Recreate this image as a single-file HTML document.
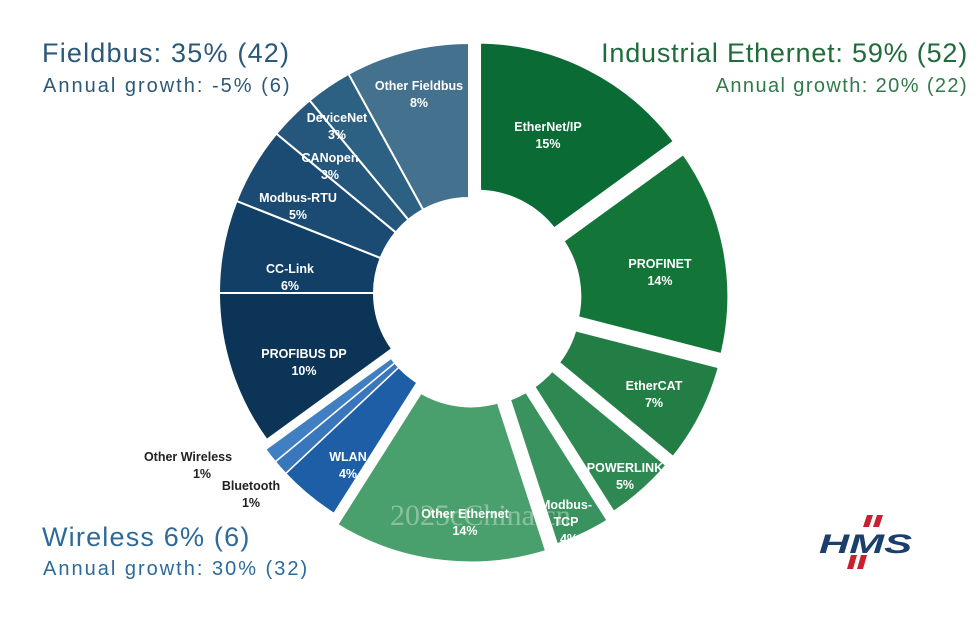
<!DOCTYPE html>
<html><head><meta charset="utf-8"><style>
html,body{margin:0;padding:0;background:#fff;}
body{width:980px;height:630px;overflow:hidden;position:relative;font-family:"Liberation Sans",sans-serif;}
.t{position:absolute;white-space:nowrap;}
</style></head><body>
<svg id="s" width="980" height="630" style="position:absolute;left:0;top:0"></svg>
<div class="t" style="left:42px;top:38px;font-size:27px;letter-spacing:1.2px;color:#2b5878;">Fieldbus: 35% (42)</div>
<div class="t" style="left:43px;top:75px;font-size:20px;letter-spacing:2px;color:#2b5878;">Annual growth: -5% (6)</div>
<div class="t" style="right:12px;top:38px;font-size:27px;letter-spacing:0.8px;color:#1f6b3a;">Industrial Ethernet: 59% (52)</div>
<div class="t" style="right:12px;top:75px;font-size:20px;letter-spacing:1.4px;color:#2f7a48;">Annual growth: 20% (22)</div>
<div class="t" style="left:42px;top:522px;font-size:27px;letter-spacing:1.2px;color:#2c6a9a;">Wireless 6% (6)</div>
<div class="t" style="left:43px;top:558px;font-size:20px;letter-spacing:2px;color:#2c6a9a;">Annual growth: 30% (32)</div>
<script>
var s=document.getElementById('s');
var CX=472,CY=298,R=250,r=95;
var data=[
['EtherNet/IP',15,'#0b6b35','e'],['PROFINET',14,'#137538','e'],['EtherCAT',7,'#237e46','e'],
['POWERLINK',5,'#2e8852','e'],['Modbus-TCP',4,'#3a935f','e'],['Other Ethernet',14,'#4aa06c','e'],
['WLAN',4,'#1d5ea6','w'],['Bluetooth',1,'#3a76bb','w'],['Other Wireless',1,'#3f7fc2','w'],
['PROFIBUS DP',10,'#0c3457','f'],['CC-Link',6,'#123f66','f'],['Modbus-RTU',5,'#1b4a72','f'],
['CANopen',3,'#25577d','f'],['DeviceNet',3,'#2c6183','f'],['Other Fieldbus',8,'#44718e','f']];
function pt(cx,cy,rad,a){return [cx+rad*Math.sin(a),cy-rad*Math.cos(a)];}
var acc=0,html='';
data.forEach(function(d){
 var a0=acc/100*2*Math.PI;acc+=d[1];var a1=acc/100*2*Math.PI;var m=(a0+a1)/2;
 var ox=0,oy=0,sw=2;
 if(d[3]=='e'){ox=10*Math.sin(m);oy=-10*Math.cos(m);sw=9;}
 if(d[3]=='w'){var g=223/180*Math.PI;ox=6*Math.sin(g);oy=-6*Math.cos(g);sw=1.5;}
 if(d[3]=='f'){ox=-3;oy=-5;sw=2;}
 var cx=CX+ox,cy=CY+oy,Ro=R+(d[0]=='Other Ethernet'?8:0)+(d[0]=='Modbus-TCP'?4:0);
 var p1=pt(cx,cy,Ro,a0),p2=pt(cx,cy,Ro,a1),p3=pt(cx,cy,r,a1),p4=pt(cx,cy,r,a0);
 var lg=(a1-a0)>Math.PI?1:0;
 html+='<path d="M'+p1+' A'+Ro+','+Ro+' 0 '+lg+' 1 '+p2+' L'+p3+' A'+r+','+r+' 0 '+lg+' 0 '+p4+'Z" fill="'+d[2]+'" stroke="#fff" stroke-width="'+sw+'"/>';
});
var L=[['EtherNet/IP','15%',548,131],['PROFINET','14%',660,268],['EtherCAT','7%',654,390],['POWERLINK','5%',625,472],
['Modbus-','TCP',566,509],['Other Ethernet','14%',465,518],['WLAN','4%',348,461],['PROFIBUS DP','10%',304,358],
['CC-Link','6%',290,273],['Modbus-RTU','5%',298,202],['CANopen','3%',330,162],['DeviceNet','3%',337,122],['Other Fieldbus','8%',419,90]];
L.forEach(function(l){html+='<text x="'+l[2]+'" y="'+l[3]+'" text-anchor="middle" font-family="Liberation Sans" font-weight="bold" font-size="12.5" fill="#fff">'+l[0]+'</text><text x="'+l[2]+'" y="'+(l[3]+17)+'" text-anchor="middle" font-family="Liberation Sans" font-weight="bold" font-size="12.5" fill="#fff">'+l[1]+'</text>';});
html+='<text x="569" y="543" text-anchor="middle" font-family="Liberation Sans" font-weight="bold" font-size="12.5" fill="#fff">4%</text>';
html+='<text x="188" y="461" text-anchor="middle" font-family="Liberation Sans" font-weight="bold" font-size="12.5" fill="#222">Other Wireless</text><text x="202" y="478" text-anchor="middle" font-family="Liberation Sans" font-weight="bold" font-size="12.5" fill="#222">1%</text>';
html+='<text x="251" y="490" text-anchor="middle" font-family="Liberation Sans" font-weight="bold" font-size="12.5" fill="#222">Bluetooth</text><text x="251" y="507" text-anchor="middle" font-family="Liberation Sans" font-weight="bold" font-size="12.5" fill="#222">1%</text>';
html+='<text x="390" y="525" font-family="Liberation Serif" font-size="30" fill="#ffffff" fill-opacity="0.35">2025cChina.cn</text>';
html+='<g transform="translate(818,500)"><path d="M49,15 l6,0 l-4,12 l-6,0z M59,15 l6,0 l-4,12 l-6,0z M33,55 l6,0 l-4,14 l-6,0z M43,55 l6,0 l-4,14 l-6,0z" fill="#c8202e"/>';
html+='<text x="1" y="53" font-family="Liberation Sans" font-weight="bold" font-style="italic" font-size="27" fill="#1b3f6b" textLength="93" lengthAdjust="spacingAndGlyphs">HMS</text></g>';
s.innerHTML=html;
</script>
</body></html>
